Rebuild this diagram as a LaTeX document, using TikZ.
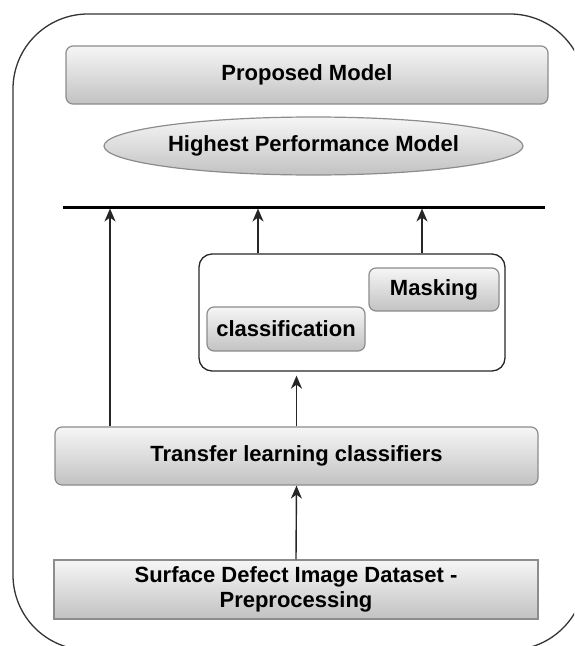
\documentclass[tikz,border=0pt]{standalone}
\usepackage{fontspec}
\setmainfont{Liberation Sans}
\usetikzlibrary{shapes.geometric,arrows.meta}
\definecolor{boxline}{HTML}{8C8C8C}
\definecolor{shadetop}{HTML}{F6F6F6}
\definecolor{shadebot}{HTML}{C2C2C2}
\tikzset{
  lbl/.style={font=\bfseries\fontsize{22}{25}\selectfont, text=black, align=center, inner sep=0pt},
  gbox/.style={lbl, draw=boxline, line width=1.2pt, top color=shadetop, bottom color=shadebot, rounded corners=7pt},
  sbox/.style={lbl, draw=boxline, line width=1.2pt, top color=shadetop, bottom color=shadebot},
  ebox/.style={lbl, ellipse, draw=boxline, line width=1.2pt, top color=shadetop, bottom color=shadebot},
  group/.style={draw=black!85, line width=1.3pt, rounded corners=13pt, inner sep=0pt},
  arr/.style={draw=black!85, line width=1.4pt, -{Stealth[length=13pt,width=11pt,inset=4pt]}},
}
\begin{document}
\begin{tikzpicture}[x=1pt,y=-1pt]
\useasboundingbox (0,0) rectangle (574,646);
\clip (0,0) rectangle (574,646);
% outer frame
\draw[draw=black!80, line width=1.3pt, rounded corners=75pt] (13,14) rectangle (585,650);
% nodes
\node[gbox, minimum width=482pt, minimum height=58pt] (prop) at (307,75) {Proposed Model};
\node[ebox, minimum width=419pt, minimum height=58pt] (high) at (313.5,146) {Highest Performance Model};
\node[group, minimum width=306pt, minimum height=117pt] (inner) at (352,312.5) {};
\node[gbox, minimum width=158pt, minimum height=44pt] (cls) at (286,329) {classification};
\node[gbox, minimum width=130pt, minimum height=43pt] (mask) at (434,289.5) {Masking};
\node[gbox, minimum width=483pt, minimum height=58pt] (trans) at (296.5,456) {Transfer learning classifiers};
\node[sbox, minimum width=484pt, minimum height=59pt] (surf) at (296,589.5) {Surface Defect Image Dataset -\\Preprocessing};
% collecting bar
\coordinate (lineL) at (63,207);
\coordinate (lineR) at (545,207);
\draw[black, line width=3pt] (lineL) -- (lineR);
\coordinate (a1) at (110,208.5);
\coordinate (a2) at (258,208.5);
\coordinate (a3) at (422,208.5);
% connectors
\draw[arr] (trans.north -| a1) -- (a1);
\draw[arr] (inner.north -| a2) -- (a2);
\draw[arr] (inner.north -| a3) -- (a3);
\draw[arr, shorten >=4pt] (trans.north) -- (trans.north |- inner.south);
\draw[arr] (surf.north) -- (trans.south);
\end{tikzpicture}
\end{document}
